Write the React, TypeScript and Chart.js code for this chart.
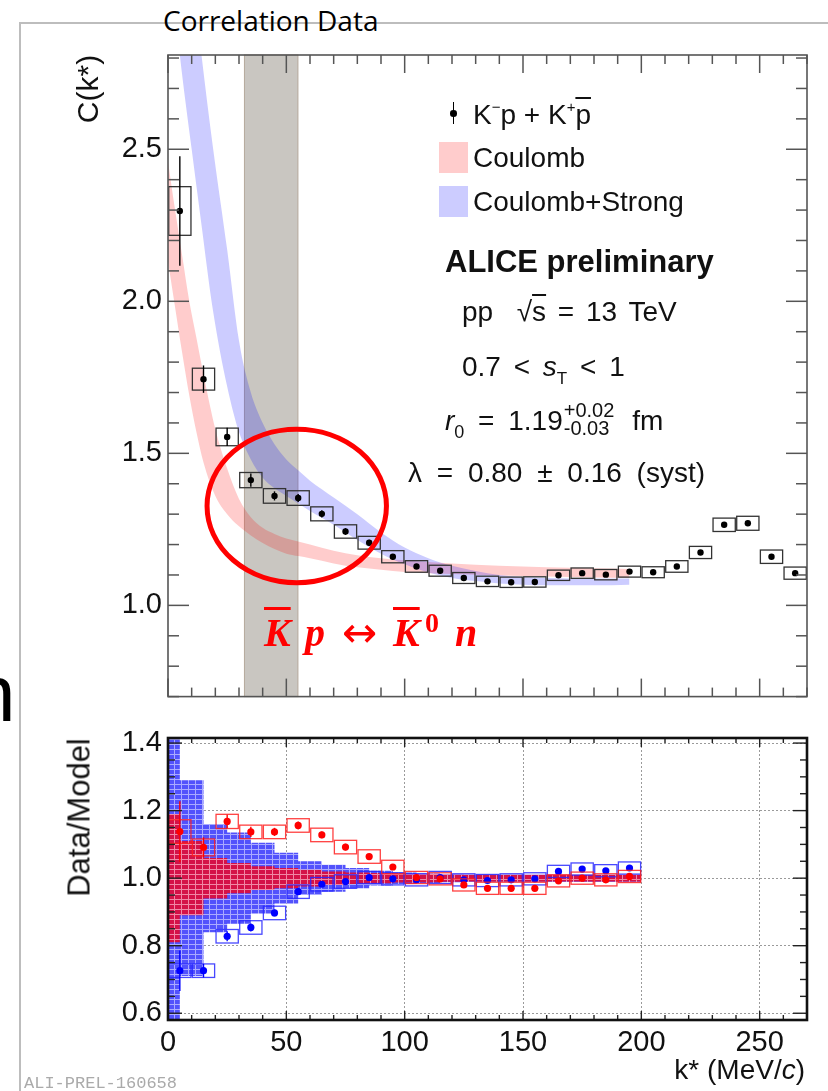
import React, { useEffect, useRef } from 'react';
import { Chart, registerables } from 'chart.js';

Chart.register(...registerables);

// ---------------- data ----------------
const kStar = [5, 15, 25, 35, 45, 55, 65, 75, 85, 95, 105, 115, 125, 135, 145, 155, 165, 175, 185, 195, 205, 215, 225, 235, 245, 255, 265];
const correlation = [2.297, 1.744, 1.554, 1.412, 1.36, 1.353, 1.301, 1.243, 1.206, 1.16, 1.128, 1.114, 1.09, 1.079, 1.076, 1.077, 1.099, 1.106, 1.101, 1.111, 1.109, 1.128, 1.174, 1.265, 1.27, 1.16, 1.106];
const correlationStat = [0.18, 0.045, 0.03, 0.022, 0.015, 0.013, 0.012, 0.011, 0.01, 0.009, 0.008, 0.008, 0.007, 0.007, 0.007, 0.007, 0.007, 0.007, 0.007, 0.007, 0.007, 0.007, 0.008, 0.008, 0.008, 0.008, 0.008];
const correlationSyst = [0.08, 0.036, 0.029, 0.025, 0.024, 0.024, 0.023, 0.022, 0.021, 0.02, 0.019, 0.018, 0.018, 0.017, 0.017, 0.017, 0.017, 0.017, 0.017, 0.018, 0.018, 0.019, 0.02, 0.022, 0.023, 0.022, 0.02];

// Coulomb model band (lower / upper edge)
const coulombK = [0, 3, 6, 9, 12, 15, 20, 25, 30, 35, 40, 45, 50, 55, 60, 70, 80, 90, 100, 120, 140, 160, 180, 195];
const coulombLow = [2.13, 1.98, 1.83, 1.69, 1.57, 1.47, 1.36, 1.3, 1.26, 1.23, 1.205, 1.185, 1.17, 1.162, 1.155, 1.138, 1.125, 1.117, 1.11, 1.103, 1.098, 1.095, 1.092, 1.09];
const coulombHigh = [2.46, 2.3, 2.15, 2.0, 1.88, 1.76, 1.58, 1.45, 1.35, 1.29, 1.255, 1.235, 1.22, 1.21, 1.2, 1.18, 1.165, 1.155, 1.148, 1.138, 1.13, 1.125, 1.122, 1.12];

// Coulomb+Strong model band (lower / upper edge)
const strongK = [0, 5, 10, 14, 19, 25, 30, 35, 40, 45, 50, 55, 60, 70, 80, 90, 100, 110, 120, 130, 140, 160, 180, 195];
const strongLow = [3.2, 2.81, 2.5, 2.26, 1.97, 1.72, 1.57, 1.48, 1.42, 1.385, 1.36, 1.335, 1.31, 1.265, 1.215, 1.17, 1.135, 1.108, 1.09, 1.08, 1.072, 1.066, 1.066, 1.068];
const strongHigh = [4.0, 3.6, 3.1, 2.82, 2.506, 2.17, 1.87, 1.7, 1.6, 1.53, 1.48, 1.444, 1.41, 1.355, 1.3, 1.24, 1.19, 1.155, 1.13, 1.113, 1.1, 1.09, 1.088, 1.088];

// Data / Model
const ratioK = [5, 15, 25, 35, 45, 55, 65, 75, 85, 95, 105, 115, 125, 135, 145, 155, 165, 175, 185, 195];
const ratioCoulomb = [1.138, 1.091, 1.168, 1.137, 1.137, 1.156, 1.128, 1.092, 1.064, 1.033, 1.002, 0.998, 0.98, 0.97, 0.97, 0.97, 0.992, 1.0, 0.995, 1.005];
const ratioCoulombStat = [0.09, 0.03, 0.02, 0.015, 0.012, 0.012, 0.01, 0.01, 0.008, 0.008, 0.007, 0.007, 0.007, 0.007, 0.007, 0.007, 0.007, 0.007, 0.007, 0.007];
const ratioCoulombSyst = [0.035, 0.025, 0.021, 0.02, 0.02, 0.02, 0.02, 0.02, 0.02, 0.02, 0.018, 0.018, 0.018, 0.018, 0.018, 0.018, 0.018, 0.018, 0.018, 0.018];
const ratioStrong = [0.726, 0.726, 0.828, 0.854, 0.897, 0.96, 0.982, 0.99, 1.002, 0.998, 0.995, 1.002, 0.995, 0.993, 0.995, 0.998, 1.02, 1.027, 1.022, 1.03];
const ratioStrongStat = [0.06, 0.02, 0.015, 0.012, 0.01, 0.01, 0.008, 0.008, 0.007, 0.007, 0.007, 0.007, 0.007, 0.007, 0.007, 0.007, 0.007, 0.007, 0.007, 0.007];
const ratioStrongSyst = [0.02, 0.02, 0.02, 0.02, 0.02, 0.02, 0.02, 0.02, 0.018, 0.018, 0.018, 0.018, 0.018, 0.018, 0.018, 0.018, 0.018, 0.018, 0.018, 0.018];

// model uncertainty bands in the ratio panel (half widths per step)
const ratioBandEdges = [0, 5, 15, 25, 35, 45, 55, 65, 75, 85, 95, 105, 115, 125, 135, 145, 155, 165, 175, 185, 195, 200];
const strongBandHalf = [0.5, 0.29, 0.16, 0.135, 0.105, 0.075, 0.05, 0.04, 0.03, 0.022, 0.017, 0.014, 0.012, 0.011, 0.011, 0.011, 0.011, 0.011, 0.011, 0.011, 0.011];
const coulombBandHalf = [0.19, 0.11, 0.06, 0.045, 0.035, 0.03, 0.025, 0.02, 0.017, 0.015, 0.013, 0.012, 0.011, 0.01, 0.01, 0.01, 0.01, 0.01, 0.01, 0.01, 0.01];

// shaded k* region and highlighted region
const shadedRange = [32.3, 54.9];
const ellipseCenter = [54.4, 1.327];
const ellipseRadii = [37.9, 0.2525];
const boxHalfWidth = 4.7;

// ticks
function range(a: number, b: number, s: number) {
  const r: number[] = [];
  for (let v = a; v <= b + 1e-9; v += s) r.push(Math.round(v * 1000) / 1000);
  return r;
}
const notIn = (arr: number[]) => (v: number) => !arr.some((m) => Math.abs(m - v) < 1e-6);
const xMajorTicks = [0, 50, 100, 150, 200, 250];
const xMinorTicks = range(0, 270, 10).filter(notIn(xMajorTicks));
const topYMajorTicks = [1.0, 1.5, 2.0, 2.5];
const topYMinorTicks = range(0.7, 2.8, 0.1).filter(notIn(topYMajorTicks));
const botYMajorTicks = [0.6, 0.8, 1.0, 1.2, 1.4];
const botYMinorTicks = range(0.6, 1.4, 0.05).filter(notIn(botYMajorTicks));

const SANS = '"Liberation Sans", Arial, Helvetica, sans-serif';

// ---------------- plugins ----------------
type ErrSeries = { index: number; x: number[]; y: number[]; stat: number[]; syst: number[]; box: string; bar: string };

function errorBoxPlugin(series: ErrSeries[]) {
  return {
    id: 'errBoxes',
    beforeDatasetDraw(chart: any, args: any) {
      const s = series.find((t) => t.index === args.index);
      if (!s) return;
      const { ctx } = chart;
      const xs = chart.scales.x;
      const ys = chart.scales.y;
      ctx.save();
      ctx.lineWidth = 1.3;
      ctx.strokeStyle = s.box;
      s.x.forEach((k, i) => {
        const l = xs.getPixelForValue(k - boxHalfWidth);
        const r = xs.getPixelForValue(k + boxHalfWidth);
        const t = ys.getPixelForValue(s.y[i] + s.syst[i]);
        const b = ys.getPixelForValue(s.y[i] - s.syst[i]);
        ctx.strokeRect(l, t, r - l, b - t);
      });
      ctx.strokeStyle = s.bar;
      ctx.lineWidth = 1.4;
      s.x.forEach((k, i) => {
        const px = xs.getPixelForValue(k);
        ctx.beginPath();
        ctx.moveTo(px, ys.getPixelForValue(s.y[i] + s.stat[i]));
        ctx.lineTo(px, ys.getPixelForValue(s.y[i] - s.stat[i]));
        ctx.stroke();
      });
      ctx.restore();
    },
  };
}

type FrameOpts = {
  yMajor: number[]; yMinor: number[];
  xMajLen: number; xMinLen: number; yMajLen: number; yMinLen: number;
  frameColor: string; frameWidth: number; tickColor: string; tickWidth: number;
};
function framePlugin(o: FrameOpts) {
  return {
    id: 'rootFrame',
    afterDatasetsDraw(chart: any) {
      const { ctx, chartArea: a } = chart;
      const xs = chart.scales.x;
      const ys = chart.scales.y;
      ctx.save();
      ctx.strokeStyle = o.tickColor;
      ctx.lineWidth = o.tickWidth;
      const seg = (x1: number, y1: number, x2: number, y2: number) => {
        ctx.beginPath(); ctx.moveTo(x1, y1); ctx.lineTo(x2, y2); ctx.stroke();
      };
      const xt = (vals: number[], len: number) => vals.forEach((v) => {
        const p = xs.getPixelForValue(v);
        seg(p, a.bottom, p, a.bottom - len);
        seg(p, a.top, p, a.top + len);
      });
      const yt = (vals: number[], len: number) => vals.forEach((v) => {
        const p = ys.getPixelForValue(v);
        seg(a.left, p, a.left + len, p);
        seg(a.right, p, a.right - len, p);
      });
      xt(xMajorTicks, o.xMajLen);
      xt(xMinorTicks, o.xMinLen);
      yt(o.yMajor, o.yMajLen);
      yt(o.yMinor, o.yMinLen);
      ctx.strokeStyle = o.frameColor;
      ctx.lineWidth = o.frameWidth;
      ctx.strokeRect(a.left, a.top, a.right - a.left, a.bottom - a.top);
      ctx.restore();
    },
  };
}

const shadePlugin = {
  id: 'shade',
  beforeDatasetsDraw(chart: any) {
    const { ctx, chartArea: a } = chart;
    const xs = chart.scales.x;
    const l = xs.getPixelForValue(shadedRange[0]);
    const r = xs.getPixelForValue(shadedRange[1]);
    ctx.save();
    ctx.fillStyle = '#c9c6c1';
    ctx.fillRect(l, a.top, r - l, a.bottom - a.top);
    ctx.strokeStyle = '#b5aa9c';
    ctx.lineWidth = 1;
    ctx.strokeRect(l, a.top, r - l, a.bottom - a.top);
    ctx.restore();
  },
};

const ellipsePlugin = {
  id: 'ellipse',
  afterDraw(chart: any) {
    const { ctx } = chart;
    const xs = chart.scales.x;
    const ys = chart.scales.y;
    const cx = xs.getPixelForValue(ellipseCenter[0]);
    const cy = ys.getPixelForValue(ellipseCenter[1]);
    const rx = xs.getPixelForValue(ellipseCenter[0] + ellipseRadii[0]) - cx;
    const ry = cy - ys.getPixelForValue(ellipseCenter[1] + ellipseRadii[1]);
    ctx.save();
    ctx.strokeStyle = '#f00';
    ctx.lineWidth = 5;
    ctx.beginPath();
    ctx.ellipse(cx, cy, rx, ry, 0, 0, Math.PI * 2);
    ctx.stroke();
    ctx.restore();
  },
};

function stripePattern(ctx: CanvasRenderingContext2D, fill: string, line: string) {
  const c = document.createElement('canvas');
  c.width = 7;
  c.height = 5;
  const g = c.getContext('2d')!;
  g.fillStyle = fill;
  g.fillRect(0, 0, 7, 5);
  g.fillStyle = line;
  g.fillRect(0, 4, 7, 1);
  g.fillRect(6, 0, 1, 4);
  return ctx.createPattern(c, 'repeat');
}

const pts = (xs: number[], ys: number[]) => xs.map((x, i) => ({ x, y: ys[i] }));
const stepPts = (edges: number[], half: number[], sign: number) =>
  edges.map((x, i) => ({ x, y: 1 + sign * half[Math.min(i, half.length - 1)] }));

const tickFont = { family: SANS, size: 29 };

export default function App() {
  const topRef = useRef<HTMLCanvasElement>(null);
  const botRef = useRef<HTMLCanvasElement>(null);

  useEffect(() => {
    const bandLine = { borderWidth: 0, borderColor: 'transparent', pointRadius: 0, cubicInterpolationMode: 'monotone' as const };
    const top = new Chart(topRef.current!, {
      type: 'line',
      data: {
        datasets: [
          { label: 'K-p + K+pbar', data: pts(kStar, correlation), showLine: false, pointRadius: 3.2, pointBackgroundColor: '#000', pointBorderWidth: 0, order: 0 } as any,
          { label: 'Coulomb low', data: pts(coulombK, coulombLow), ...bandLine, fill: false, order: 6 },
          { label: 'Coulomb', data: pts(coulombK, coulombHigh), ...bandLine, fill: '-1', backgroundColor: 'rgba(255,0,0,0.2)', order: 6 },
          { label: 'Strong low', data: pts(strongK, strongLow), ...bandLine, fill: false, order: 5 },
          { label: 'Coulomb+Strong', data: pts(strongK, strongHigh), ...bandLine, fill: '-1', backgroundColor: 'rgba(0,0,255,0.2)', order: 5 },
        ],
      },
      options: {
        responsive: false,
        animation: false,
        devicePixelRatio: 1,
        events: [],
        layout: { padding: { left: 108, right: 21, top: 55, bottom: 8 } },
        plugins: { legend: { display: false }, tooltip: { enabled: false } },
        scales: {
          x: { type: 'linear', min: 0, max: 270, display: false },
          y: {
            type: 'linear', min: 0.7, max: 2.81,
            afterFit: (s: any) => { s.width = 60; },
            afterBuildTicks: (s: any) => { s.ticks = topYMajorTicks.map((v) => ({ value: v })); },
            grid: { display: false, drawTicks: false },
            border: { display: false },
            ticks: { color: '#111', font: tickFont, padding: 6, callback: (v: any) => Number(v).toFixed(1) },
          },
        },
      },
      plugins: [
        shadePlugin,
        errorBoxPlugin([{ index: 0, x: kStar, y: correlation, stat: correlationStat, syst: correlationSyst, box: '#333', bar: '#000' }]),
        framePlugin({ yMajor: topYMajorTicks, yMinor: topYMinorTicks, xMajLen: 18, xMinLen: 9, yMajLen: 21, yMinLen: 11, frameColor: '#555', frameWidth: 1.6, tickColor: '#555', tickWidth: 1.5 }),
        ellipsePlugin,
      ],
    } as any);

    const bctx = botRef.current!.getContext('2d')!;
    const bluePat = stripePattern(bctx, 'rgb(82,82,252)', 'rgb(170,170,255)');
    const redPat = stripePattern(bctx, 'rgb(212,18,72)', 'rgb(240,135,165)');
    const stepLine = { borderWidth: 0, borderColor: 'transparent', pointRadius: 0, stepped: true };
    const bot = new Chart(botRef.current!, {
      type: 'line',
      data: {
        datasets: [
          { label: 'Data/Coulomb', data: pts(ratioK, ratioCoulomb), showLine: false, pointRadius: 3.6, pointBackgroundColor: '#f00', pointBorderWidth: 0, order: 0 } as any,
          { label: 'Data/Coulomb+Strong', data: pts(ratioK, ratioStrong), showLine: false, pointRadius: 3.6, pointBackgroundColor: '#00f', pointBorderWidth: 0, order: 1 },
          { label: 'strong band low', data: stepPts(ratioBandEdges, strongBandHalf, -1), ...stepLine, fill: false, order: 10 },
          { label: 'strong band', data: stepPts(ratioBandEdges, strongBandHalf, 1), ...stepLine, fill: '-1', backgroundColor: bluePat, order: 10 },
          { label: 'coulomb band low', data: stepPts(ratioBandEdges, coulombBandHalf, -1), ...stepLine, fill: false, order: 9 },
          { label: 'coulomb band', data: stepPts(ratioBandEdges, coulombBandHalf, 1), ...stepLine, fill: '-1', backgroundColor: redPat, order: 9 },
        ],
      },
      options: {
        responsive: false,
        animation: false,
        devicePixelRatio: 1,
        events: [],
        layout: { padding: { left: 108, right: 21, top: 38, bottom: 21 } },
        plugins: { legend: { display: false }, tooltip: { enabled: false } },
        scales: {
          x: {
            type: 'linear', min: 0, max: 270,
            afterFit: (s: any) => { s.height = 50; },
            afterBuildTicks: (s: any) => { s.ticks = xMajorTicks.map((v) => ({ value: v })); },
            grid: { color: '#9a9a9a', lineWidth: 1, drawTicks: false },
            border: { display: false, dash: [2, 2] },
            ticks: { color: '#111', font: tickFont, padding: 6, maxRotation: 0 },
          },
          y: {
            type: 'linear', min: 0.58, max: 1.415,
            afterFit: (s: any) => { s.width = 60; },
            afterBuildTicks: (s: any) => { s.ticks = botYMajorTicks.map((v) => ({ value: v })); },
            grid: { color: '#9a9a9a', lineWidth: 1, drawTicks: false },
            border: { display: false, dash: [2, 2] },
            ticks: { color: '#111', font: tickFont, padding: 6, callback: (v: any) => Number(v).toFixed(1) },
          },
        },
      },
      plugins: [
        errorBoxPlugin([
          { index: 0, x: ratioK, y: ratioCoulomb, stat: ratioCoulombStat, syst: ratioCoulombSyst, box: 'rgba(255,30,30,0.85)', bar: '#f00' },
          { index: 1, x: ratioK, y: ratioStrong, stat: ratioStrongStat, syst: ratioStrongSyst, box: 'rgba(40,40,255,0.85)', bar: '#00f' },
        ]),
        framePlugin({ yMajor: botYMajorTicks, yMinor: botYMinorTicks, xMajLen: 9, xMinLen: 5, yMajLen: 14, yMinLen: 7, frameColor: '#111', frameWidth: 2.6, tickColor: '#222', tickWidth: 1.4 }),
      ],
    } as any);

    return () => {
      top.destroy();
      bot.destroy();
    };
  }, []);

  const txt = (x: number, cy: number, size: number, extra: any = {}) => ({
    position: 'absolute' as const, left: x, top: cy - size / 2, fontSize: size, lineHeight: `${size}px`,
    whiteSpace: 'nowrap' as const, fontFamily: SANS, color: '#111', ...extra,
  });
  const sup = { fontSize: 15, position: 'relative' as const, top: -12 };
  const red = { position: 'absolute' as const, color: '#f00', fontFamily: '"Liberation Serif", "DejaVu Serif", serif', fontWeight: 700, fontStyle: 'italic' as const, whiteSpace: 'nowrap' as const };

  return (
    <div style={{ position: 'absolute', left: 0, top: 0, width: 828, height: 1091, overflow: 'hidden', background: '#fff' }}>
      {/* slide frame */}
      <div style={{ position: 'absolute', left: 19, top: 22, width: 809, height: 1.5, background: '#bdbdbd' }} />
      <div style={{ position: 'absolute', left: 19, top: 22, width: 1.5, height: 1069, background: '#bdbdbd' }} />
      <div style={{ position: 'absolute', left: 163, top: 6, fontFamily: '"Open Sans", "Noto Sans", sans-serif', fontSize: 28, lineHeight: '28px', color: '#000', whiteSpace: 'nowrap' }}>Correlation Data</div>
      <div style={{ position: 'absolute', left: -29, top: 654, fontFamily: SANS, fontSize: 80, lineHeight: '80px', color: '#000' }}>n</div>

      <canvas ref={topRef} width={828} height={720} style={{ position: 'absolute', left: 0, top: 0 }} />
      <canvas ref={botRef} width={828} height={391} style={{ position: 'absolute', left: 0, top: 700 }} />

      {/* axis titles */}
      <div style={{ ...txt(38, 89, 30), width: 100, textAlign: 'center', transform: 'rotate(-90deg)' }}>C(k*)</div>
      <div style={{ ...txt(-21, 817, 31), width: 200, textAlign: 'center', transform: 'rotate(-90deg)' }}>Data/Model</div>
      <div style={{ ...txt(605, 1070, 28), width: 200, textAlign: 'right' }}>k* (MeV/<i>c</i>)</div>

      {/* legend */}
      <div style={{ position: 'absolute', left: 452.5, top: 102, width: 1.5, height: 22, background: '#000' }} />
      <div style={{ position: 'absolute', left: 450, top: 110, width: 6.5, height: 6.5, borderRadius: '50%', background: '#000' }} />
      <div style={txt(473, 115, 28)}>K<span style={sup}>−</span>p + K<span style={sup}>+</span><span style={{ textDecoration: 'overline' }}>p</span></div>
      <div style={{ position: 'absolute', left: 439, top: 142, width: 29, height: 31, background: 'rgba(255,0,0,0.2)' }} />
      <div style={txt(473, 158, 28)}>Coulomb</div>
      <div style={{ position: 'absolute', left: 439, top: 186, width: 29, height: 31, background: 'rgba(0,0,255,0.2)' }} />
      <div style={txt(473, 202, 28)}>Coulomb+Strong</div>

      {/* ALICE labels */}
      <div style={txt(445, 261, 31, { fontWeight: 700 })}>ALICE preliminary</div>
      <div style={txt(462, 312, 28, { wordSpacing: 4 })}>pp&nbsp;&nbsp;√<span style={{ textDecoration: 'overline' }}>s</span> = 13 TeV</div>
      <div style={txt(462, 367, 28, { wordSpacing: 5 })}>0.7 &lt; <i>s</i><span style={{ fontSize: 17, position: 'relative', top: 8 }}>T</span> &lt; 1</div>
      <div style={txt(445, 419, 28, { wordSpacing: 6 })}>
        <i>r</i><span style={{ fontSize: 18, position: 'relative', top: 8 }}>0</span> = 1.19
        <span style={{ display: 'inline-flex', flexDirection: 'column', fontSize: 20, lineHeight: '18px', verticalAlign: 'middle', position: 'relative', top: -4, margin: '0 4px 0 1px', wordSpacing: 0 }}>
          <span>+0.02</span>
          <span>-0.03</span>
        </span>
        {' '}fm
      </div>
      <div style={txt(408, 473, 28, { wordSpacing: 7 })}>λ = 0.80 ± 0.16 (syst)</div>

      {/* red annotation */}
      <span style={{ ...red, left: 264, top: 613, fontSize: 40, lineHeight: '40px', textDecoration: 'overline', textDecorationThickness: '3px' }}>K</span>
      <span style={{ ...red, left: 305, top: 613, fontSize: 40, lineHeight: '40px' }}>p</span>
      <span style={{ ...red, left: 342, top: 612, fontSize: 42, lineHeight: '42px', fontFamily: '"DejaVu Sans", sans-serif', fontWeight: 400, fontStyle: 'normal' }}>↔</span>
      <span style={{ ...red, left: 393, top: 613, fontSize: 40, lineHeight: '40px', textDecoration: 'overline', textDecorationThickness: '3px' }}>K</span>
      <span style={{ ...red, left: 425, top: 609, fontSize: 28, lineHeight: '28px', fontStyle: 'normal' }}>0</span>
      <span style={{ ...red, left: 455, top: 613, fontSize: 40, lineHeight: '40px' }}>n</span>

      <div style={{ position: 'absolute', left: 24, top: 1075, fontFamily: '"Liberation Mono", "DejaVu Sans Mono", monospace', fontSize: 17, lineHeight: '17px', color: '#aaa', whiteSpace: 'nowrap' }}>ALI-PREL-160658</div>
    </div>
  );
}
